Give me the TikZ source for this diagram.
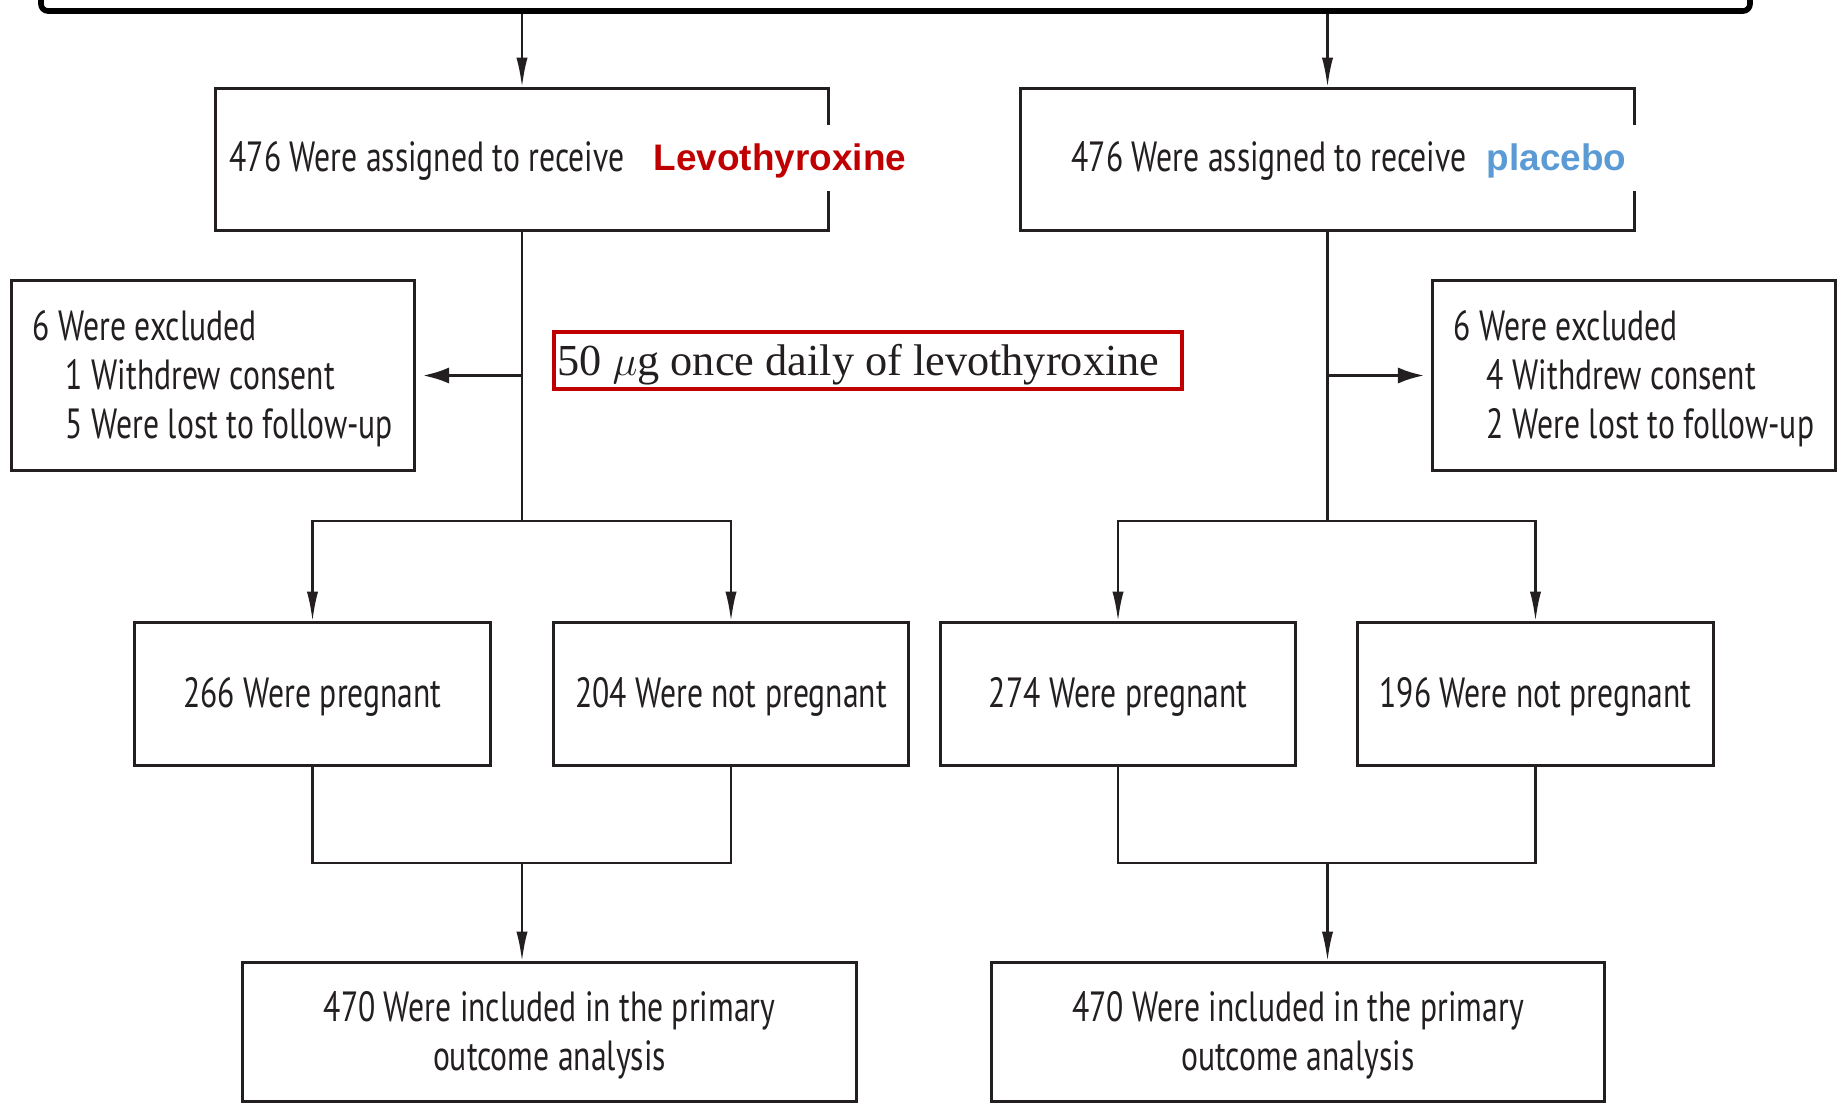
\documentclass[tikz,border=0pt]{standalone}
\usepackage{fontspec}
\usepackage{xcolor}
\usetikzlibrary{arrows.meta}

\newfontfamily\flowfont{PT Sans}[FakeStretch=0.75]
\newfontfamily\armfont{Liberation Sans}
\newfontfamily\dosefont{Liberation Serif}

\definecolor{inkgray}{HTML}{231F20}
\definecolor{levred}{HTML}{C00000}
\definecolor{plablue}{HTML}{5B9BD5}

\begin{document}
\begin{tikzpicture}[x=0.01cm,y=-0.01cm]
	\tikzstyle{every node}=[font=\flowfont\fontsize{12}{13.8}\selectfont, text=inkgray, text depth=0.6pt];
	\tikzstyle{box}=[draw=inkgray, line width=0.85pt, inner sep=0pt];
	\tikzstyle{line}=[draw=inkgray, line width=0.7pt];
	\tikzstyle{arr}=[line, -{Latex[length=8.5pt,width=3.2pt]}];
	\tikzstyle{sidearr}=[draw=inkgray, line width=1pt, -{Latex[length=7.5pt,width=4.6pt]}, shorten >=2pt];
	\tikzstyle{arm}=[font=\armfont\bfseries\fontsize{10.5}{12}\selectfont, fill=white, inner xsep=4pt, minimum height=0.65cm, anchor=west];

	\useasboundingbox (0,0) rectangle (1839,1103);

	%Enrolment (cut off at the top)
	\node[draw=black, line width=1.6pt, rounded corners=2pt, inner sep=0pt,
		minimum width=17.08cm, minimum height=1cm] (enrol) at (895.5,-39) {};

	%Level 1
	\node[box, minimum width=6.12cm, minimum height=1.41cm] (lev) at (522,159.5) {};
	\node[anchor=west, inner sep=0pt] (levtxt) at (229,158) {476 Were assigned to receive};
	\node[arm, text=levred] (levarm) at (639,158) {Levothyroxine};

	\node[box, minimum width=6.13cm, minimum height=1.41cm] (pla) at (1327.5,159.5) {};
	\node[anchor=west, inner sep=0pt] (platxt) at (1071,158) {476 Were assigned to receive};
	\node[arm, text=plablue] (plaarm) at (1472,158) {placebo};

	%Dose
	\node[draw=levred, line width=1.2pt, inner xsep=1pt, inner ysep=0pt, minimum height=0.57cm,
		font=\dosefont\fontsize{12.6}{14}\selectfont] (dose) at (868,360.5)
		{\makebox[6.21cm][l]{50 $\mu$g once daily of levothyroxine}};

	%Level 2
	\node[box, align=left, minimum width=4.02cm, minimum height=1.89cm] (lexc) at (213,375.5)
		{6 Were excluded\\\hspace{9.4pt}1 Withdrew consent\\\hspace{9.4pt}5 Were lost to follow-up};
	\node[box, align=left, minimum width=4.02cm, minimum height=1.89cm] (pexc) at (1634,375.5)
		{6 Were excluded\\\hspace{9.4pt}4 Withdrew consent\\\hspace{9.4pt}2 Were lost to follow-up};

	%Level 3
	\node[box, minimum width=3.55cm, minimum height=1.42cm] (lpreg) at (312.5,694) {266 Were pregnant};
	\node[box, minimum width=3.54cm, minimum height=1.42cm] (lnot) at (731,694) {204 Were not pregnant};
	\node[box, minimum width=3.54cm, minimum height=1.42cm] (ppreg) at (1118,694) {274 Were pregnant};
	\node[box, minimum width=3.55cm, minimum height=1.42cm] (pnot) at (1535.5,694) {196 Were not pregnant};

	%Level 4
	\node[box, align=center, minimum width=6.13cm, minimum height=1.38cm] (lout) at (549.5,1032)
		{470 Were included in the primary\\outcome analysis};
	\node[box, align=center, minimum width=6.12cm, minimum height=1.38cm] (pout) at (1298,1032)
		{470 Were included in the primary\\outcome analysis};

	%Lines
	\coordinate (lsplit) at (522,521);
	\coordinate (psplit) at (1327.5,521);
	\coordinate (lmerge) at (522,863);
	\coordinate (pmerge) at (1327.5,863);

	\draw[arr] (enrol.south -| lev.north) -- (lev.north);
	\draw[arr] (enrol.south -| pla.north) -- (pla.north);

	\draw[line] (lev.south) -- (lsplit);
	\draw[line] (pla.south) -- (psplit);
	\draw[sidearr] (lev.south |- lexc.east) -- (lexc.east);
	\draw[sidearr] (pla.south |- pexc.west) -- (pexc.west);

	\draw[arr] (lsplit) -| (lpreg.north);
	\draw[arr] (lsplit) -| (lnot.north);
	\draw[arr] (psplit) -| (ppreg.north);
	\draw[arr] (psplit) -| (pnot.north);

	\draw[line] (lpreg.south) |- (lmerge);
	\draw[line] (lnot.south) |- (lmerge);
	\draw[line] (ppreg.south) |- (pmerge);
	\draw[line] (pnot.south) |- (pmerge);
	\draw[arr] (lmerge) -- (lmerge |- lout.north);
	\draw[arr] (pmerge) -- (pmerge |- pout.north);
\end{tikzpicture}
\end{document}
